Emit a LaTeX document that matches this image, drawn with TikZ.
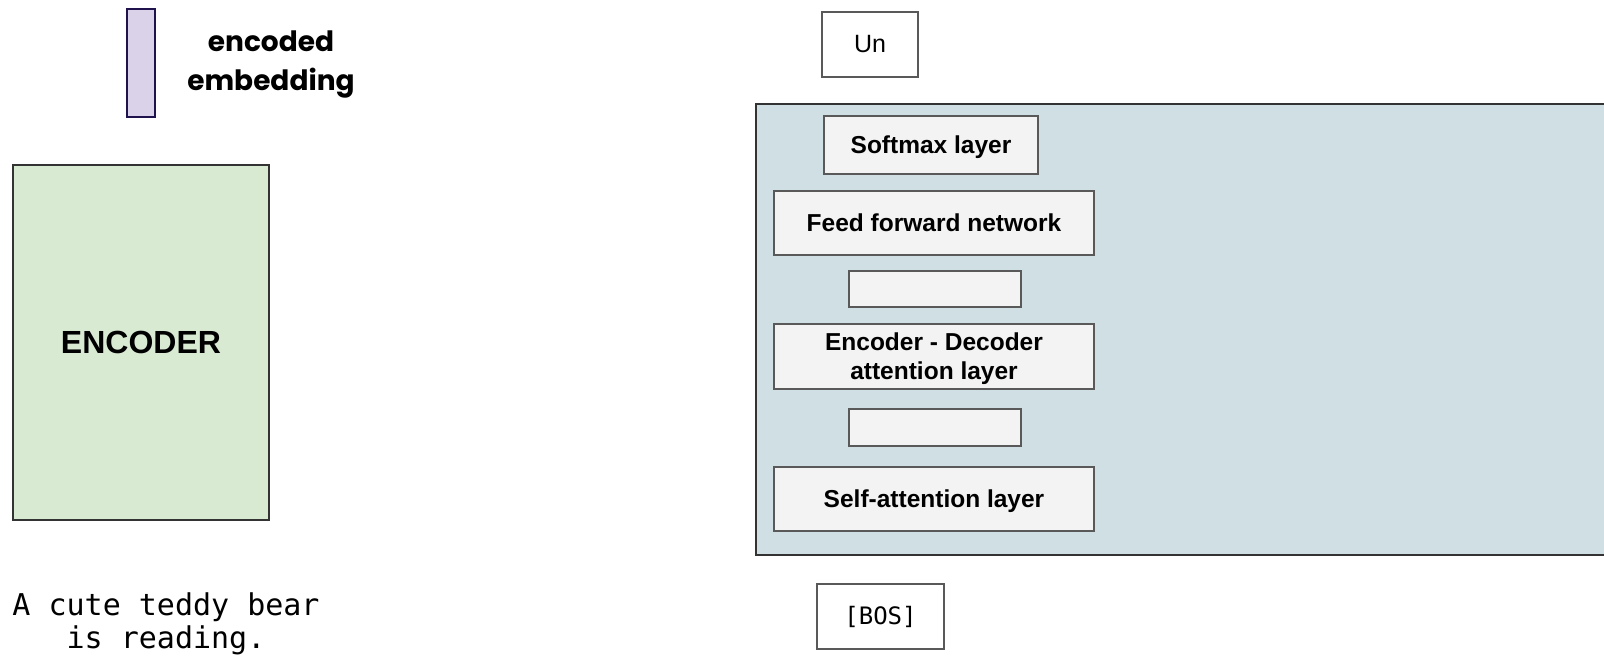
\documentclass[tikz,border=0pt]{standalone}
\usepackage{fontspec}
\setmainfont{Liberation Sans}
\newfontfamily\headfont{Poppins}
\newfontfamily\codefont{DejaVu Sans Mono}
\definecolor{boxfill}{HTML}{F3F3F3}
\definecolor{boxline}{HTML}{595959}
\definecolor{encfill}{HTML}{D9EAD3}
\definecolor{embfill}{HTML}{D9D2E9}
\definecolor{embline}{HTML}{20124D}
\definecolor{decfill}{HTML}{D0DFE3}
\definecolor{darkline}{HTML}{333333}
\begin{document}
\begin{tikzpicture}[x=1pt,y=-1pt,
  layer/.style={draw=boxline, fill=boxfill, line width=1.3pt, inner sep=0pt,
    text depth=0pt, align=center, font=\fontsize{24.5}{29}\selectfont\bfseries},
  token/.style={draw=boxline, fill=white, line width=1.3pt, inner sep=0pt}]
\useasboundingbox (0,0) rectangle (1604,658);

% encoder side
\node[draw=embline, fill=embfill, line width=1.3pt, inner sep=0pt,
  minimum width=28pt, minimum height=108pt] (emb) at (141,63) {};
\node[font=\headfont\fontsize{28}{39}\selectfont\bfseries, align=center, inner sep=0pt]
  (embtxt) at (271,64) {encoded\\embedding};
\node[draw=darkline, fill=encfill, line width=1.3pt, inner sep=0pt,
  minimum width=256pt, minimum height=355pt,
  font=\fontsize{32}{36}\selectfont\bfseries] (enc) at (141,342.5) {ENCODER};
\node[font=\codefont\fontsize{30}{33}\selectfont, align=center, inner sep=0pt]
  (src) at (166,624) {A cute teddy bear\\is reading.};

% decoder block (runs past the right edge)
\fill[decfill] (756,104) rectangle (1604,555);
\draw[darkline, line width=1.5pt] (1604,104) -- (756,104) -- (756,555) -- (1604,555);
\coordinate (dec) at (756,104);

\node[token, minimum width=96pt, minimum height=65pt,
  font=\fontsize{25}{28}\selectfont] (out) at (870,44.5) {Un};
\node[layer, minimum width=214pt, minimum height=58pt] (soft) at (931,145) {Softmax layer};
\node[layer, minimum width=320pt, minimum height=64pt] (ffn) at (934,223) {Feed forward network};
\node[layer, minimum width=172pt, minimum height=36pt] (gap1) at (935,289) {};
\node[layer, minimum width=320pt, minimum height=65pt] (cross) at (934,356.5) {Encoder - Decoder\\attention layer};
\node[layer, minimum width=172pt, minimum height=37pt] (gap2) at (935,427.5) {};
\node[layer, minimum width=320pt, minimum height=64pt] (self) at (934,499) {Self-attention layer};
\node[token, minimum width=127pt, minimum height=65pt,
  font=\codefont\fontsize{24}{28}\selectfont] (bos) at (880.5,616.5) {[BOS]};
\end{tikzpicture}
\end{document}
